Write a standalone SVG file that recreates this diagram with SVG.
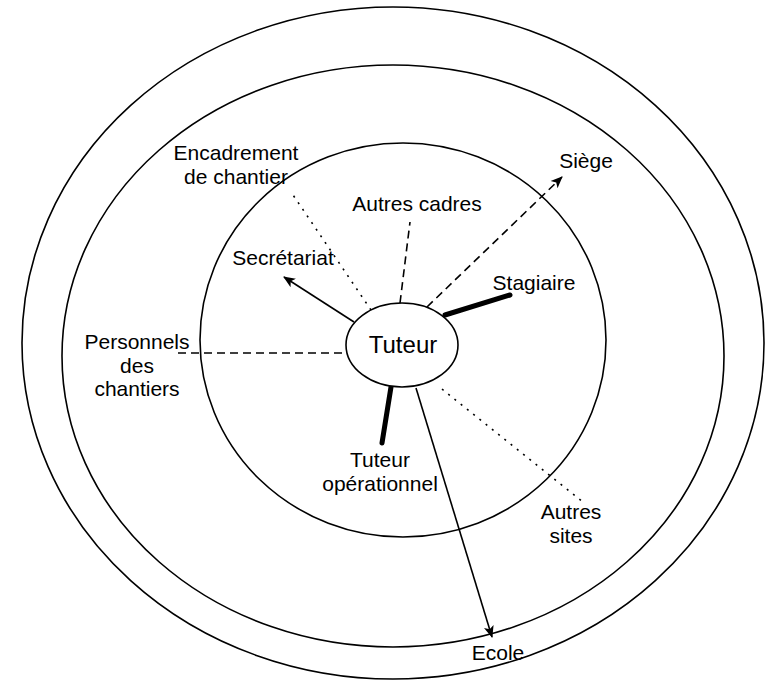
<svg xmlns="http://www.w3.org/2000/svg" width="767" height="683" viewBox="0 0 767 683">
  <style>
    .ring { fill: none; stroke: #000; stroke-width: 1.6; }
    .lbl { font-family: "Liberation Sans", Arial, sans-serif; font-size: 21px; fill: #000; text-anchor: middle; }
    .ln { fill: none; stroke: #000; stroke-width: 1.6; }
    .dash { stroke-dasharray: 8 5; }
    .dot { stroke-dasharray: 2 6; }
    .thick { stroke-width: 5; stroke-linecap: round; }
  </style>
  <defs>
    <marker id="arr" viewBox="0 0 12 12" refX="11" refY="6" markerWidth="12" markerHeight="12" markerUnits="userSpaceOnUse" orient="auto">
      <path d="M0,1 L12,6 L0,11 L3,6 Z" fill="#000"/>
    </marker>
  </defs>
  <rect width="767" height="683" fill="#fff"/>

  <!-- concentric rings -->
  <g id="rings">
    <ellipse class="ring" cx="393" cy="343" rx="371" ry="336"/>
    <ellipse class="ring" cx="393" cy="356" rx="331" ry="291"/>
    <ellipse class="ring" cx="403" cy="340" rx="203" ry="197"/>
  </g>

  <!-- connectors -->
  <g id="connectors">
    <line class="ln" x1="354" y1="322" x2="284" y2="277" marker-end="url(#arr)"/>
    <line class="ln dot" x1="371" y1="310" x2="291" y2="192"/>
    <line class="ln dash" x1="400" y1="303" x2="410" y2="222"/>
    <line class="ln dash" x1="427" y1="307" x2="562" y2="177" marker-end="url(#arr)"/>
    <line class="ln thick" x1="445" y1="315" x2="510" y2="295"/>
    <line class="ln dash" x1="178" y1="353" x2="356" y2="353"/>
    <line class="ln thick" x1="391" y1="387" x2="382" y2="443"/>
    <line class="ln" x1="416" y1="388" x2="492" y2="637" marker-end="url(#arr)"/>
    <line class="ln dot" x1="442" y1="389" x2="583" y2="502"/>
  </g>

  <!-- central node -->
  <g id="tuteur">
    <ellipse cx="402" cy="345" rx="56" ry="42" fill="#fff" stroke="#000" stroke-width="1.6"/>
    <text class="lbl" x="403" y="353" style="font-size:24px">Tuteur</text>
  </g>

  <g id="encadrement">
    <text class="lbl" x="236" y="160">Encadrement</text>
    <text class="lbl" x="236" y="184">de chantier</text>
  </g>
  <g id="autres-cadres"><text class="lbl" x="417" y="211">Autres cadres</text></g>
  <g id="siege"><text class="lbl" x="586" y="168">Siège</text></g>
  <g id="stagiaire"><text class="lbl" x="534" y="290">Stagiaire</text></g>
  <g id="secretariat"><text class="lbl" x="283" y="265">Secrétariat</text></g>
  <g id="personnels">
    <text class="lbl" x="137" y="349">Personnels</text>
    <text class="lbl" x="137" y="373">des</text>
    <text class="lbl" x="137" y="396">chantiers</text>
  </g>
  <g id="tuteur-operationnel">
    <text class="lbl" x="380" y="467">Tuteur</text>
    <text class="lbl" x="380" y="491">opérationnel</text>
  </g>
  <g id="autres-sites">
    <text class="lbl" x="571" y="519">Autres</text>
    <text class="lbl" x="571" y="543">sites</text>
  </g>
  <g id="ecole"><text class="lbl" x="498" y="660">Ecole</text></g>
</svg>
